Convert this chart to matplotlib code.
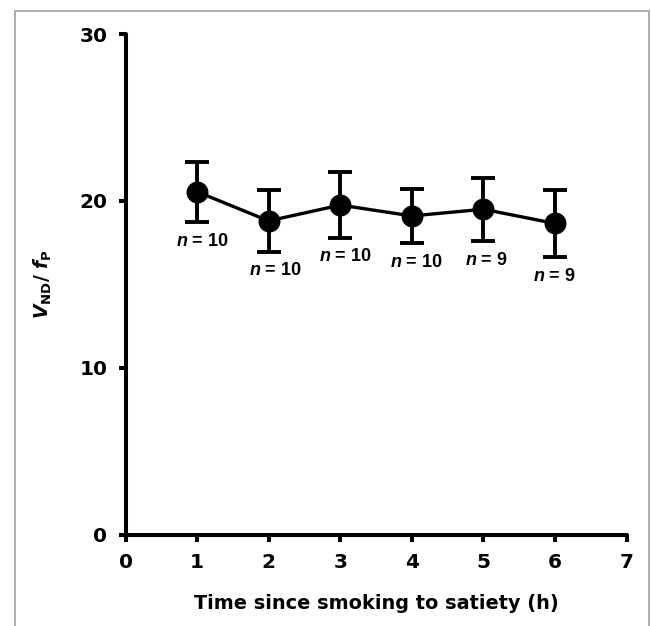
"""VND/fP over time since smoking to satiety: mean +/- error with group sizes."""

import matplotlib
matplotlib.use("Agg")
import matplotlib.pyplot as plt  # noqa: E402
from matplotlib.patches import Rectangle  # noqa: E402

# --- data ---
hours = [1, 2, 3, 4, 5, 6]
vnd_fp = [20.55, 18.8, 19.75, 19.1, 19.5, 18.65]
err = [1.8, 1.85, 2.0, 1.6, 1.9, 2.0]
n_labels = ["10", "10", "10", "10", "9", "9"]
n_label_x = [1.08, 2.09, 3.07, 4.07, 5.04, 5.99]
n_label_y = [17.55, 15.85, 16.65, 16.3, 16.4, 15.5]
x_ticks = [0, 1, 2, 3, 4, 5, 6, 7]
y_ticks = [0, 10, 20, 30]

plt.rcParams["mathtext.fontset"] = "custom"
plt.rcParams["mathtext.it"] = "Liberation Sans:italic:bold"
plt.rcParams["mathtext.bfit"] = "DejaVu Sans:italic:bold"
plt.rcParams["mathtext.bf"] = "DejaVu Sans:bold"
plt.rcParams["mathtext.rm"] = "DejaVu Sans:bold"

W, H, DPI = 651, 626, 100
fig = plt.figure(figsize=(W / DPI, H / DPI), dpi=DPI)
ax = fig.add_axes([125.5 / W, 91.3 / H, 501 / W, 500.7 / H])

ax.errorbar(hours, vnd_fp, yerr=err, fmt="-o", color="black", lw=2.4,
            ms=14.8, elinewidth=2.8, capsize=8.6, capthick=2.8)

for x, y, lab in zip(n_label_x, n_label_y, n_labels):
    ax.text(x, y, r"$n$ = " + lab, ha="center", va="center",
            family="Liberation Sans", fontweight="bold", fontsize=13)

ax.set_xlim(0, 7)
ax.set_ylim(0, 30)
ax.set_xticks(x_ticks)
ax.set_yticks(y_ticks)
for side in ("top", "right"):
    ax.spines[side].set_visible(False)
for side in ("left", "bottom"):
    ax.spines[side].set_linewidth(2.9)
    ax.spines[side].set_capstyle("round")
ax.tick_params(direction="out", length=5, width=2.9, labelsize=14.5)
ax.tick_params(axis="x", pad=8)
ax.tick_params(axis="y", pad=8)
for lbl in ax.get_xticklabels() + ax.get_yticklabels():
    lbl.set_fontweight("bold")

ax.set_xlabel("Time since smoking to satiety (h)", fontsize=13.9,
              fontweight="bold", labelpad=16)
ax.set_ylabel(r"$\mathbfit{V}_{\mathbf{ND}}$/ $\mathbfit{f}_{\mathbf{P}}$",
              fontsize=13.5, fontweight="bold", labelpad=19)

# grey frame round the whole figure
fig.patches.append(Rectangle((14.5 / W, -0.02), (649 - 14.5) / W, 615.5 / H + 0.02,
                             transform=fig.transFigure, fill=False,
                             edgecolor="#a0a0a0", lw=1.2))

fig.savefig("out.png", dpi=DPI)
plt.close(fig)
